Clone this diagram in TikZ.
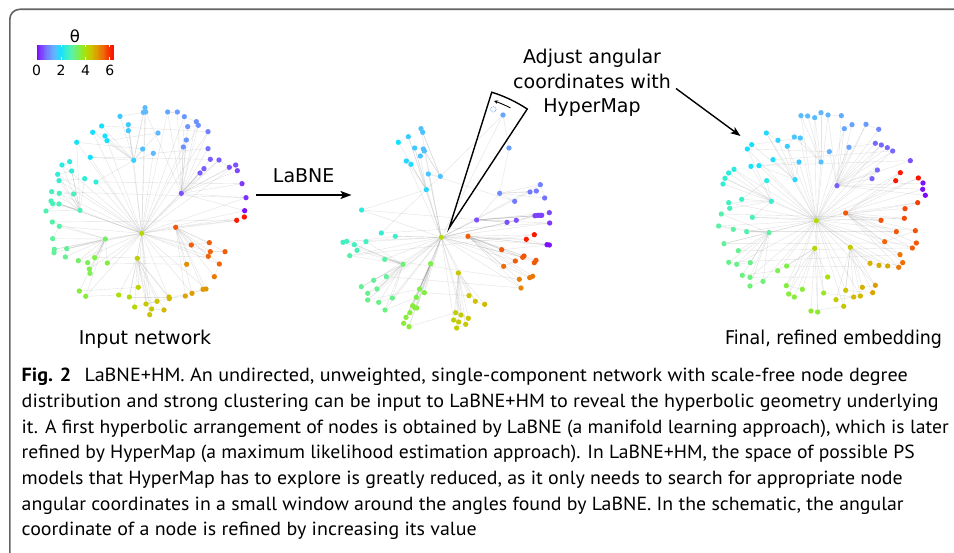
\documentclass[tikz,border=0pt]{standalone}
\usepackage{fontspec}
\usepackage{graphicx}
\setmainfont{PT Sans}
\newfontfamily\dvs{DejaVu Sans}
\usetikzlibrary{arrows.meta}

% colour keys of the angular colour scale, one every 0.5 rad
\definecolor{k0}{RGB}{128,0,255}
\definecolor{k1}{RGB}{125,80,255}
\definecolor{k2}{RGB}{110,140,255}
\definecolor{k3}{RGB}{95,185,255}
\definecolor{k4}{RGB}{20,225,255}
\definecolor{k5}{RGB}{60,240,200}
\definecolor{k6}{RGB}{100,240,155}
\definecolor{k7}{RGB}{125,240,70}
\definecolor{k8}{RGB}{170,225,10}
\definecolor{k9}{RGB}{205,195,0}
\definecolor{k10}{RGB}{225,150,0}
\definecolor{k11}{RGB}{240,100,10}
\definecolor{k12}{RGB}{250,40,0}
\definecolor{k13}{RGB}{255,0,0}
\definecolor{framegray}{RGB}{100,100,100}
\definecolor{oldpos}{RGB}{100,170,255}

% sets colour "dc" for an angle theta (rad)
\newcommand\thetacol[1]{%
  \pgfmathsetmacro\tq{min(max(#1,0),6.49)*2}%
  \pgfmathtruncatemacro\ti{floor(\tq)}%
  \pgfmathtruncatemacro\tj{\ti+1}%
  \pgfmathtruncatemacro\tp{round(100*(\tq-\ti))}%
  \colorlet{dc}{k\tj!\tp!k\ti}}

\pgfdeclarelayer{paper}
\pgfdeclarelayer{edges}
\pgfsetlayers{paper,edges,main}

\tikzset{
  dot/.style={circle, inner sep=0pt, minimum size=5.3pt, fill=dc, draw=none},
  link/.style={draw=black!55, line width=0.4pt, opacity=0.2},
  lbl/.style={font=\dvs\fontsize{19}{23}\selectfont, inner sep=0pt, anchor=base},
  capline/.style={font=\fontsize{19}{23}\selectfont, inner sep=0pt, anchor=base west},
  bigarrow/.style={line width=1.7pt, -{Stealth[length=11pt,width=8pt,inset=2.5pt]}},
  wedge/.style={line width=1.4pt, line join=miter},
}

% ---- network data: x/y/theta/hub (panel-local coordinates) ----
\def\hubsA{c1/335/430/4.2/c1, o1/437/412/5.6/c1, p1/454/310/0.5/c1, b1/311/211/1.8/c1,
  g1/226/447/3.3/c1, l1/322/505/4.3/c1, m1/150/361/2.7/c1}
\def\dotsA{345/53/1.5/b1, 340/67/1.5/b1, 347/66/1.5/p1, 270/79/1.7/b1, 413/66/1.3/p1,
  442/66/1.2/p1, 463/80/1.15/p1, 499/95/1.05/p1, 505/106/1.05/p1, 473/110/1.1/p1,
  534/125/0.9/p1, 215/108/2.0/b1, 295/104/1.7/b1, 295/122/1.7/b1, 188/127/2.0/b1,
  225/138/2.0/b1, 231/152/2.0/b1, 384/129/1.5/b1, 469/150/1.1/p1, 460/171/1.05/p1,
  140/157/2.05/m1, 338/177/1.6/b1, 370/190/1.5/b1, 534/176/0.8/p1, 181/202/2.0/b1,
  541/208/0.6/p1, 567/210/0.6/p1, 598/232/0.5/p1, 617/225/0.5/p1, 622/242/0.45/p1,
  522/236/0.6/p1, 510/249/0.6/p1, 96/225/2.3/m1, 119/215/2.3/m1, 83/253/2.35/m1,
  125/243/2.35/m1, 87/272/2.4/m1, 164/266/2.35/m1, 198/276/2.35/b1, 636/281/0.35/p1,
  648/323/0.3/p1, 65/305/2.6/m1, 88/310/2.6/m1, 131/312/2.6/m1, 63/333/2.65/m1,
  68/341/2.65/m1, 87/342/2.7/m1, 48/363/2.75/m1, 644/362/0.1/p1, 643/381/6.25/o1,
  620/391/6.2/o1, 67/396/2.85/g1, 88/409/2.85/g1, 68/446/3.0/g1, 484/465/5.55/o1,
  538/458/5.55/o1, 73/478/3.0/g1, 72/488/3.0/g1, 110/476/3.0/g1, 106/501/3.05/g1,
  541/485/5.5/o1, 585/485/5.55/o1, 535/499/5.5/o1, 194/503/3.5/g1, 145/512/3.3/g1,
  173/518/3.4/g1, 178/537/3.45/g1, 180/550/3.45/g1, 232/519/3.55/g1, 470/523/5.05/o1,
  568/522/5.5/o1, 553/560/5.3/o1, 325/592/4.3/l1, 148/603/3.6/g1, 167/619/3.6/g1,
  266/615/4.0/l1, 298/621/4.1/l1, 417/621/4.6/l1, 418/626/4.6/l1, 466/618/4.85/o1,
  486/610/4.9/o1, 519/598/4.95/o1, 528/597/5.0/o1, 314/651/4.2/l1, 348/642/4.4/l1,
  381/634/4.5/l1, 365/657/4.4/l1, 402/660/4.6/l1, 359/674/4.45/l1}

\def\hubsB{c2/364/472/4.1/c2, o2/444/469/5.55/c2, p2/470/420/0.5/c2, b2/319/329/1.85/c2,
  s2/361/289/1.6/b2, g2/249/553/3.2/c2, h2/332/551/3.5/c2, l2/415/579/4.4/c2, q2/539/340/1.0/p2}
\def\dotsB{549/105/1.3/s2, 567/204/1.2/q2, 303/146/1.6/s2, 308/157/1.6/s2, 265/170/1.7/b2,
  235/187/2.0/b2, 284/204/1.7/b2, 310/207/1.6/s2, 313/213/1.6/s2, 301/228/1.65/b2,
  259/243/1.9/b2, 273/253/1.9/b2, 325/282/1.65/s2, 584/364/0.85/q2, 630/336/0.85/q2,
  649/333/0.85/q2, 661/314/0.9/q2, 674/354/0.8/q2, 125/390/2.3/b2, 561/427/0.5/p2,
  589/421/0.5/p2, 645/407/0.4/p2, 653/406/0.4/p2, 660/406/0.4/p2, 665/406/0.4/p2,
  688/398/0.45/p2, 689/429/0.35/p2, 184/459/2.4/b2, 226/469/2.5/c2, 69/487/2.6/g2,
  80/484/2.6/g2, 103/494/2.6/g2, 138/485/2.6/g2, 111/511/2.7/g2, 89/527/2.8/g2,
  643/464/6.2/o2, 619/478/6.15/o2, 681/494/0.1/o2, 688/495/0.1/o2, 545/509/5.6/o2,
  608/532/5.6/o2, 612/528/5.6/o2, 586/543/5.55/o2, 551/559/5.4/o2, 648/541/5.6/o2,
  643/548/5.6/o2, 194/538/2.9/g2, 598/598/5.2/o2, 629/593/5.3/o2, 638/589/5.3/o2,
  603/624/5.15/o2, 199/590/3.0/g2, 161/601/3.0/g2, 124/620/3.0/g2, 171/627/3.05/g2,
  143/640/3.05/g2, 143/660/3.1/g2, 299/627/3.5/h2, 313/638/3.55/h2, 447/647/4.4/l2,
  466/664/4.5/l2, 494/673/4.6/l2, 217/654/3.1/g2, 176/667/3.1/g2, 195/690/3.15/g2,
  289/652/3.5/h2, 278/677/3.6/h2, 284/683/3.6/h2, 290/684/3.6/h2, 270/698/3.6/h2,
  258/712/3.6/h2, 251/730/3.65/h2, 267/740/3.65/h2, 407/698/4.3/l2, 423/705/4.35/l2,
  445/715/4.45/l2, 401/720/4.3/l2, 416/726/4.35/l2, 437/733/4.4/l2, 410/744/4.3/l2}

\def\hubsC{c3/349/392/4.1/c3, o3/437/369/5.6/c3, p3/411/287/0.6/c3, l3/344/475/4.2/c3,
  y3/451/472/4.4/c3, b3/285/269/1.85/c3, s3/363/216/1.55/c3, m3/214/334/2.4/c3, n3/207/428/2.9/c3}
\def\dotsC{303/77/1.55/s3, 323/78/1.55/s3, 344/83/1.55/s3, 363/68/1.45/s3, 384/75/1.45/p3,
  424/77/1.35/p3, 433/116/1.3/p3, 456/104/1.25/p3, 498/103/1.15/p3, 536/118/0.95/p3,
  199/129/1.9/b3, 234/151/1.8/b3, 262/169/1.75/b3, 283/141/1.65/s3, 301/144/1.65/s3,
  155/164/2.0/b3, 142/177/2.05/m3, 388/185/1.4/p3, 447/172/1.25/p3, 526/160/0.7/p3,
  544/165/0.7/p3, 562/173/0.7/p3, 578/183/0.7/p3, 219/209/1.95/b3, 297/216/1.7/b3,
  153/229/2.05/m3, 177/227/2.05/b3, 631/212/0.5/p3, 102/238/2.3/m3, 86/249/2.3/m3,
  75/265/2.4/m3, 69/282/2.4/m3, 532/240/0.7/p3, 516/266/0.65/p3, 601/248/6.2/o3,
  587/272/6.2/o3, 655/264/6.25/o3, 669/279/0.1/p3, 668/298/0.1/p3, 676/316/0.05/p3,
  200/272/2.3/m3, 125/328/2.5/m3, 86/338/2.6/m3, 89/355/2.6/m3, 653/338/5.8/o3,
  615/356/5.7/o3, 613/385/5.7/o3, 64/372/2.8/n3, 157/382/2.7/m3, 543/391/5.65/o3,
  56/408/2.9/n3, 100/418/2.9/n3, 140/425/2.8/n3, 589/425/5.6/o3, 646/422/5.65/o3,
  554/455/5.5/o3, 72/461/3.0/n3, 649/459/5.6/o3, 637/474/5.55/o3, 115/482/3.05/n3,
  600/494/5.35/o3, 86/517/3.1/n3, 110/523/3.1/n3, 151/518/3.1/n3, 510/520/4.7/y3,
  537/526/4.75/y3, 563/528/4.8/y3, 608/518/5.4/o3, 596/532/5.3/o3, 260/528/3.5/l3,
  233/542/3.45/l3, 127/556/3.15/n3, 150/562/3.15/n3, 383/561/4.0/l3, 189/574/3.2/n3,
  150/588/3.2/n3, 259/587/3.55/l3, 307/598/3.6/l3, 526/586/4.9/y3, 487/592/4.7/y3,
  437/601/4.5/y3, 518/608/4.85/y3, 266/612/3.6/l3, 283/621/3.6/l3, 371/609/3.8/l3,
  461/621/4.6/y3, 481/618/4.6/y3, 408/629/4.35/y3, 431/649/4.45/y3, 333/663/3.7/l3,
  353/666/3.7/l3}

% draws one network: hub list, dot list, node prefix, centre hub
\newcommand\drawnet[4]{%
  \foreach \n/\x/\y/\t/\pp in #1 {\thetacol{\t}\node[dot] (\n) at (\x,\y) {};}
  \foreach \x/\y/\t/\h [count=\i] in #2 {\thetacol{\t}\node[dot] (#3\i) at (\x,\y) {};}
  \begin{pgfonlayer}{edges}
    \foreach \n/\x/\y/\t/\pp in #1 {\draw[link] (\n) -- (\pp);}
    \foreach \x/\y/\t/\h [count=\i] in #2 {%
      \draw[link] (#3\i) -- (\h);
      \ifodd\i \draw[link] (#3\i) -- (#4);
      \else \pgfmathtruncatemacro\prev{\i-1}\draw[link] (#3\i) -- (#3\prev);\fi}
  \end{pgfonlayer}}

\begin{document}
\begin{tikzpicture}[x=1pt,y=-1pt]
\useasboundingbox (0,0) rectangle (954,553);
\begin{pgfonlayer}{paper}
  \fill[white] (0,0) rectangle (954,553);
\end{pgfonlayer}

% frame
\draw[framegray, line width=1.6pt, rounded corners=10pt] (9.8,553) -- (9.8,9.3) -- (954,9.3);

% colour bar
\foreach \k in {0,...,63} {
  \pgfmathsetmacro\th{(\k+0.5)*6.2832/64}
  \thetacol{\th}
  \fill[dc] (36.7+\k*1.197,45) rectangle (36.7+\k*1.197+1.5,60);
}
\foreach \v in {2,4} {
  \draw[white, line width=0.7pt] (36.7+\v*12.19,45) -- ++(0,2.5);
  \draw[white, line width=0.7pt] (36.7+\v*12.19,60) -- ++(0,-2.5);
}
\draw[white, line width=0.7pt] (109.8,45) -- ++(0,2.5) (109.8,60) -- ++(0,-2.5);
\node[lbl, font=\dvs\fontsize{16.5}{20}\selectfont] (thlabel) at (75,42.7) {θ};
\foreach \v in {0,2,4,6}
  \node[lbl, font=\dvs\fontsize{14}{17}\selectfont] (tick\v) at (36.7+\v*12.19,75.7) {\v};

% the three networks
\begin{scope}[shift={(30,90)}, x=0.33333pt, y=-0.33333pt]
  \drawnet{\hubsA}{\dotsA}{u}{c1}
\end{scope}
\begin{scope}[shift={(320,80)}, x=0.33333pt, y=-0.33333pt]
  \drawnet{\hubsB}{\dotsB}{v}{c2}
\end{scope}
\begin{scope}[shift={(700,90)}, x=0.33333pt, y=-0.33333pt]
  \drawnet{\hubsC}{\dotsC}{w}{c3}
\end{scope}

% angular window around one node
\coordinate (apex) at (449.3,227.7);
\begin{scope}[shift={(apex)}, x=1pt, y=1pt]
  \draw[wedge] (72.6:142) arc[start angle=72.6, end angle=56.7, radius=142] -- (0,0) -- cycle;
  \draw[line width=0.9pt, -{Stealth[length=4pt,width=3.6pt]}] (63:134.5) arc[start angle=63, end angle=70.6, radius=134.5];
\end{scope}
\node[circle, draw=oldpos, dash pattern=on 1pt off 0.9pt, line width=0.6pt,
      minimum size=5.6pt, inner sep=0pt] (oldnode) at (493.3,109.4) {};

% labels and arrows
\node[lbl] (labne) at (303.7,182.3) {LaBNE};
\coordinate (la1) at (256,195);
\coordinate (la2) at (351.5,195);
\draw[bigarrow] (la1) -- (la2);

\node[lbl] (adj1) at (592,64) {Adjust angular};
\node[lbl] (adj2) at (592,88.3) {coordinates with};
\node[lbl] (adj3) at (592,112.3) {HyperMap};
\coordinate (hm1) at (676,88.5);
\coordinate (hm2) at (740.5,136);
\draw[line width=1.4pt, -{Stealth[length=10pt,width=7.5pt,inset=2.5pt]}] (hm1) -- (hm2);

\node[lbl] (inlabel) at (145,344.3) {Input network};
\node[lbl] (outlabel) at (833.5,344.3) {\resizebox{217pt}{\height}{Final, refined embedding}};

% caption
\node[capline] (cap1) at (21.5,381.7) {\resizebox{886pt}{\height}{\textbf{Fig. 2}\hspace{0.4em} LaBNE+HM. An undirected, unweighted, single-component network with scale-free node degree}};
\node[capline] (cap2) at (21.5,407.4) {\resizebox{917pt}{\height}{distribution and strong clustering can be input to LaBNE+HM to reveal the hyperbolic geometry underlying}};
\node[capline] (cap3) at (21.5,433.1) {\resizebox{927pt}{\height}{it. A first hyperbolic arrangement of nodes is obtained by LaBNE (a manifold learning approach), which is later}};
\node[capline] (cap4) at (21.5,458.8) {\resizebox{893pt}{\height}{refined by HyperMap (a maximum likelihood estimation approach). In LaBNE+HM, the space of possible PS}};
\node[capline] (cap5) at (21.5,484.5) {\resizebox{881pt}{\height}{models that HyperMap has to explore is greatly reduced, as it only needs to search for appropriate node}};
\node[capline] (cap6) at (21.5,510.2) {\resizebox{882pt}{\height}{angular coordinates in a small window around the angles found by LaBNE. In the schematic, the angular}};
\node[capline] (cap7) at (21.5,535.9) {\resizebox{455pt}{\height}{coordinate of a node is refined by increasing its value}};
\end{tikzpicture}
\end{document}
